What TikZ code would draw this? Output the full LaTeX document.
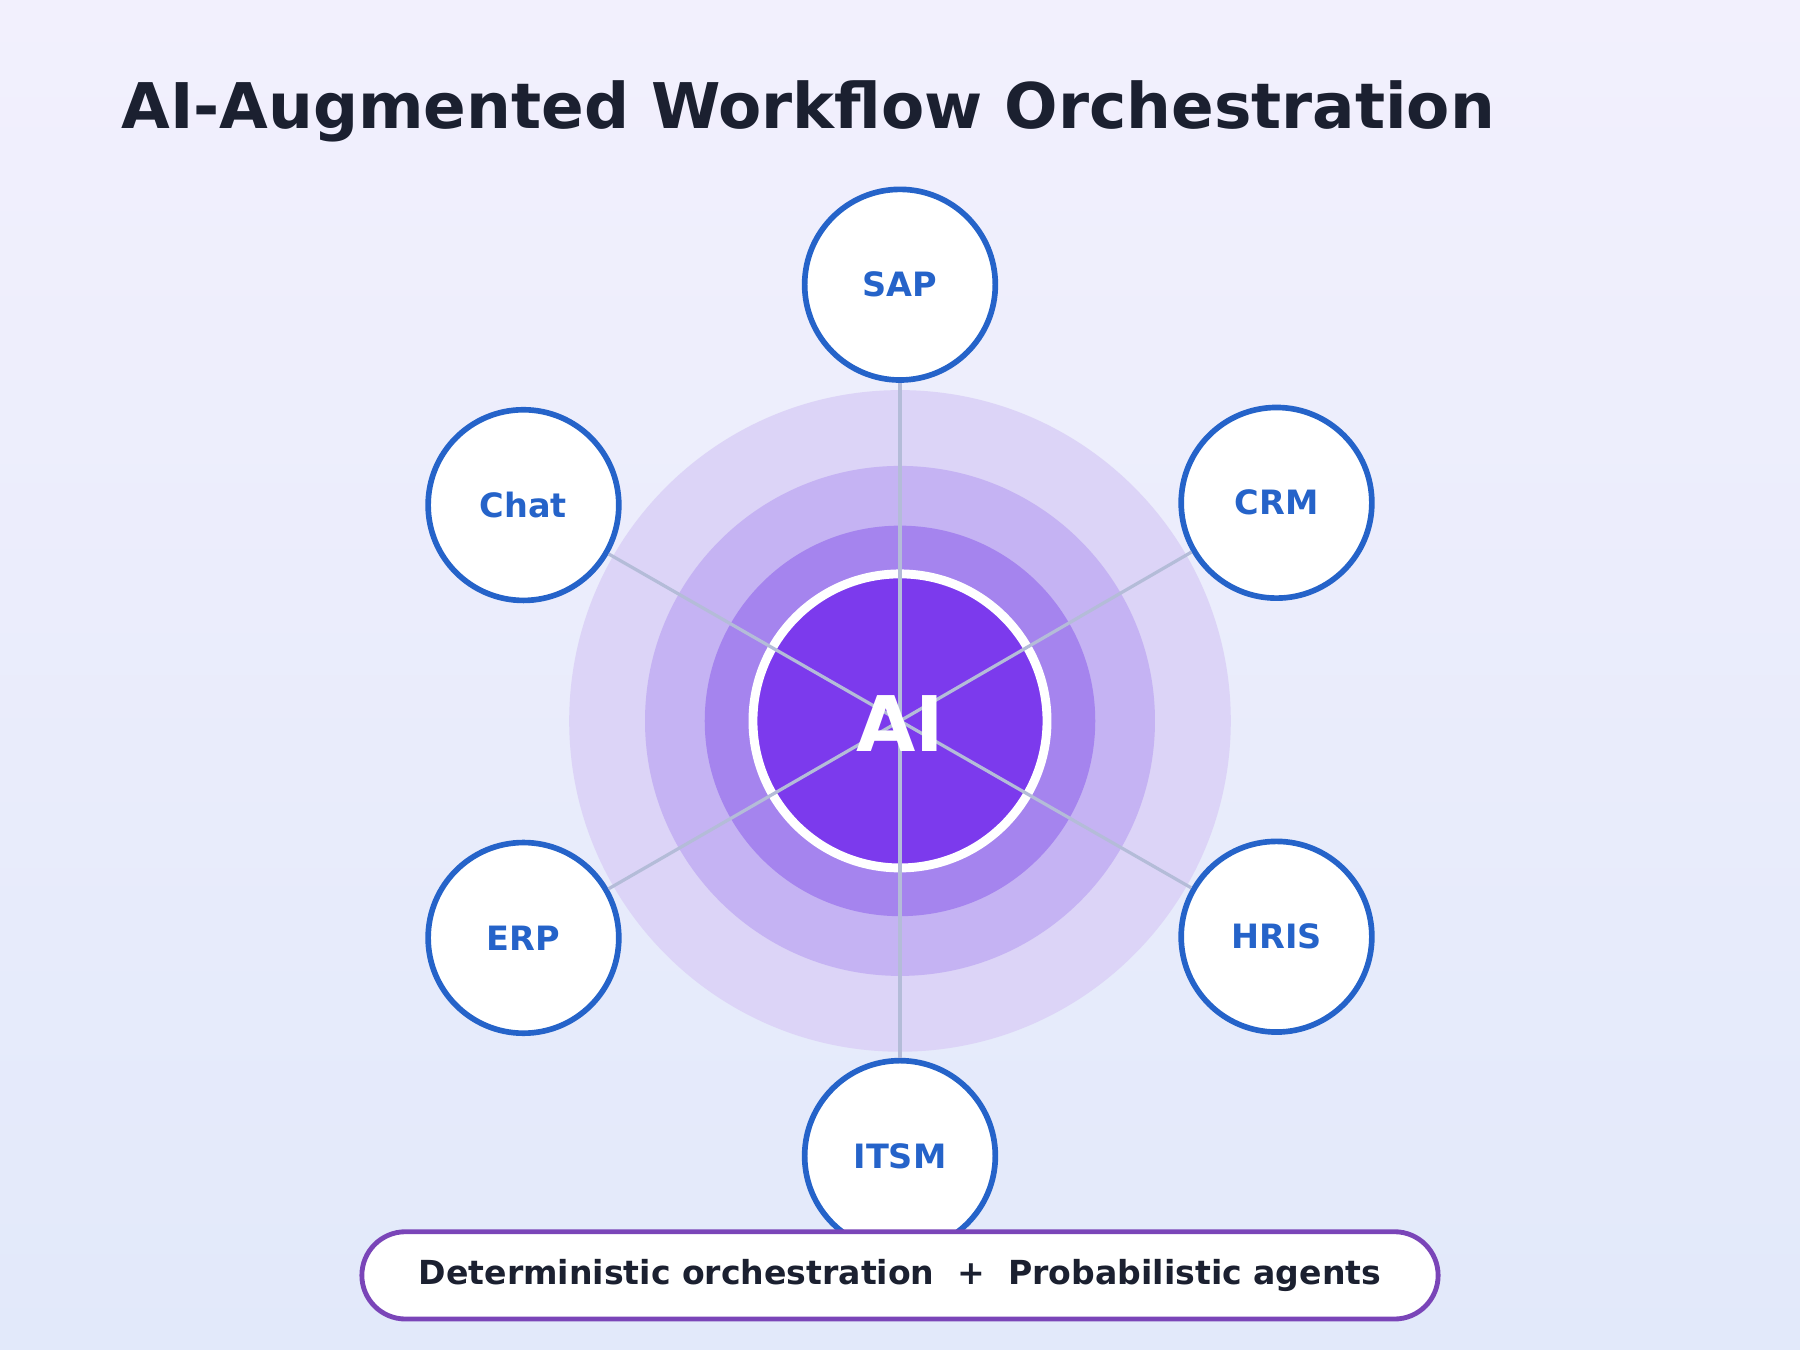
\documentclass[tikz,border=0pt]{standalone}
\usepackage{fontspec}
\setmainfont{DejaVu Sans}
\usetikzlibrary{positioning}
\definecolor{bgtop}{HTML}{F2F0FD}
\definecolor{bgbot}{HTML}{E2E9FA}
\definecolor{ringA}{HTML}{DCD4F7}
\definecolor{ringB}{HTML}{C5B3F3}
\definecolor{ringC}{HTML}{A584EE}
\definecolor{core}{HTML}{7C3AED}
\definecolor{satblue}{HTML}{2563C9}
\definecolor{spoke}{HTML}{B4BCD8}
\definecolor{titleink}{HTML}{1B2030}
\definecolor{pillborder}{HTML}{7A45B8}

\begin{document}
\begin{tikzpicture}[
    x=0.01cm, y=-0.01cm,
    % Satellite system style
    sat/.style={
        circle,
        draw=satblue,
        line width=1.4pt,
        fill=white,
        minimum size=1.66cm,
        inner sep=0pt,
        font=\fontsize{8.3}{10}\selectfont\bfseries,
        text=satblue
    },
    % Glow ring style
    ring/.style={
        circle,
        draw=none,
        inner sep=0pt
    },
    % Spoke style
    spokeline/.style={
        draw=spoke,
        line width=0.8pt
    }
]

% === Background ===
\shade[top color=bgtop, bottom color=bgbot] (0,0) rectangle (1568,1176);
\useasboundingbox (0,0) rectangle (1568,1176);

% === Title ===
\node[anchor=west, inner sep=0pt, text=titleink, font=\fontsize{15.6}{18}\selectfont\bfseries]
    (title) at (105,97) {AI-Augmented Workflow Orchestration};

% === Glow rings ===
\node[ring, fill=ringA, minimum size=5.76cm] (glowA) at (784,628) {};
\node[ring, fill=ringB, minimum size=4.44cm] (glowB) at (784,628) {};
\node[ring, fill=ringC, minimum size=3.40cm] (glowC) at (784,628) {};
\node[ring, fill=core, draw=white, line width=2.2pt, minimum size=2.56cm] (ai) at (784,628) {};

% === Satellites ===
\node[sat] (sap)  at (784,248)  {SAP};
\node[sat] (chat) at (456,440)  {Chat};
\node[sat] (crm)  at (1112,438) {CRM};
\node[sat] (erp)  at (456,817)  {ERP};
\node[sat] (hris) at (1112,816) {HRIS};
\node[sat] (itsm) at (784,1007) {ITSM};

% === Spokes ===
\foreach \s in {sap, chat, crm, erp, hris, itsm}
    \draw[spokeline] (ai.center) -- (\s);

\node[text=white, font=\fontsize{19}{20}\selectfont\bfseries] (ailbl) at (784,630) {AI};

% === Bottom banner ===
\node[rectangle, rounded corners=0.38cm, draw=pillborder, line width=1.2pt, fill=white,
      minimum width=9.37cm, minimum height=0.76cm, text=titleink,
      font=\fontsize{8.2}{10}\selectfont\bfseries]
    (banner) at (784,1111) {Deterministic orchestration \ + \ Probabilistic agents};

\end{tikzpicture}
\end{document}
